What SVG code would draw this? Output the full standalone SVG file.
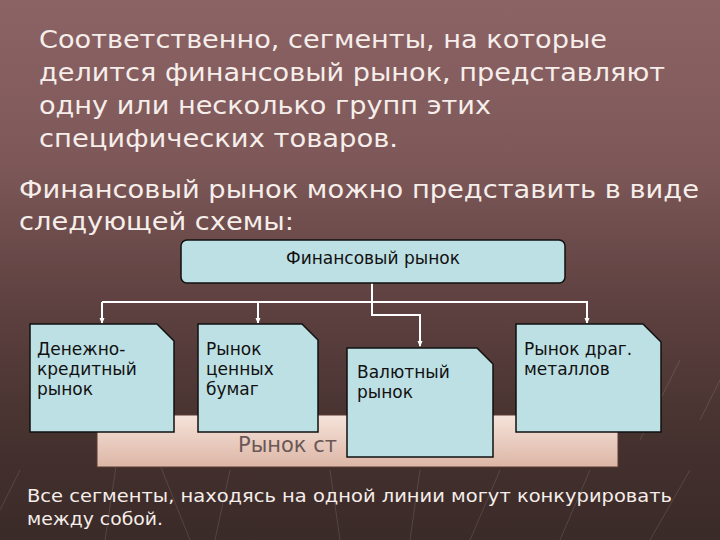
<svg xmlns="http://www.w3.org/2000/svg" width="720" height="540" viewBox="0 0 720 540">
<defs>
<linearGradient id="bg" x1="0" y1="0" x2="0" y2="1">
<stop offset="0" stop-color="#8c6365"/>
<stop offset="0.3" stop-color="#7e5859"/>
<stop offset="0.55" stop-color="#5f4241"/>
<stop offset="0.8" stop-color="#46322f"/>
<stop offset="1" stop-color="#3a2a28"/>
</linearGradient>
<linearGradient id="bar" x1="0" y1="0" x2="0" y2="1">
<stop offset="0" stop-color="#f6e3da"/>
<stop offset="1" stop-color="#dcb6a6"/>
</linearGradient>
<marker id="arr" markerWidth="6" markerHeight="6" refX="5" refY="3" orient="auto" markerUnits="userSpaceOnUse">
<path d="M0,0.5 L6,3 L0,5.5 Z" fill="#ffffff"/>
</marker>
<style>
.title{font-family:"DejaVu Sans","Verdana",sans-serif;fill:#f6eeea}
.t1{font-size:24px}
.t2{font-size:25px}
.note{font-family:"DejaVu Sans",sans-serif;font-size:17px;fill:#f6eeea}
.box{fill:#bde0e4;stroke:#111;stroke-width:1.5}
.lbl{font-family:"DejaVu Sans",sans-serif;font-size:17px;fill:#111}
.conn{fill:none;stroke:#ffffff;stroke-width:2}
.deco{stroke:#ffffff;stroke-opacity:0.12;stroke-width:1;fill:none}
</style>
</defs>
<rect x="0" y="0" width="720" height="540" fill="url(#bg)"/>
<g class="deco">
<path d="M120,440 L105,540"/><path d="M150,440 L190,540"/><path d="M230,470 L215,540"/>
<path d="M330,470 L340,540"/><path d="M420,470 L410,540"/><path d="M500,470 L470,540"/>
<path d="M590,470 L560,540"/><path d="M690,470 L650,540"/><path d="M20,470 L0,510"/>
<path d="M700,420 L720,380"/><path d="M640,440 L680,360"/>
</g>
<g id="heading">
<text class="title t1" x="39" y="48" textLength="568" lengthAdjust="spacingAndGlyphs">Соответственно, сегменты, на которые</text>
<text class="title t1" x="39" y="81" textLength="626" lengthAdjust="spacingAndGlyphs">делится финансовый рынок, представляют</text>
<text class="title t1" x="39" y="114" textLength="452" lengthAdjust="spacingAndGlyphs">одну или несколько групп этих</text>
<text class="title t1" x="39" y="147" textLength="359" lengthAdjust="spacingAndGlyphs">специфических товаров.</text>
<text class="title t2" x="19" y="198" textLength="680" lengthAdjust="spacingAndGlyphs">Финансовый рынок можно представить в виде</text>
<text class="title t2" x="19" y="230" textLength="275" lengthAdjust="spacingAndGlyphs">следующей схемы:</text>
</g>
<g id="insurance-bar">
<rect x="97" y="415" width="521" height="52" fill="url(#bar)" stroke="#5a3a32" stroke-width="1"/>
<text x="238" y="452" font-family="DejaVu Sans, sans-serif" font-size="21" fill="#6a5856">Рынок ст</text>
</g>
<g id="connectors">
<path class="conn" d="M372,283 V315 H420 V346" marker-end="url(#arr)"/>
<path class="conn" d="M102,302 H588"/>
<path class="conn" d="M102,302 V323" marker-end="url(#arr)"/>
<path class="conn" d="M258,302 V323" marker-end="url(#arr)"/>
<path class="conn" d="M587,302 V323" marker-end="url(#arr)"/>
</g>
<g id="financial-market">
<rect class="box" x="181" y="240" width="384" height="43" rx="6"/>
<text class="lbl" x="373" y="264" text-anchor="middle">Финансовый рынок</text>
</g>
<g id="money-credit">
<path class="box" d="M30,324 H157 L174,341 V432 H30 Z"/>
<text class="lbl" x="37" y="355">Денежно-</text>
<text class="lbl" x="37" y="375">кредитный</text>
<text class="lbl" x="37" y="395">рынок</text>
</g>
<g id="securities">
<path class="box" d="M198,324 H302 L318,340 V432 H198 Z"/>
<text class="lbl" x="206" y="355">Рынок</text>
<text class="lbl" x="206" y="375">ценных</text>
<text class="lbl" x="206" y="395">бумаг</text>
</g>
<g id="currency">
<path class="box" d="M347,348 H477 L493,364 V457 H347 Z"/>
<text class="lbl" x="357" y="378">Валютный</text>
<text class="lbl" x="357" y="398">рынок</text>
</g>
<g id="precious-metals">
<path class="box" d="M516,324 H643 L661,342 V432 H516 Z"/>
<text class="lbl" x="524" y="355">Рынок драг.</text>
<text class="lbl" x="524" y="375">металлов</text>
</g>
<g id="footer">
<text class="note" x="27" y="502" textLength="645" lengthAdjust="spacingAndGlyphs">Все сегменты, находясь на одной линии могут конкурировать</text>
<text class="note" x="27" y="525" textLength="136" lengthAdjust="spacingAndGlyphs">между собой.</text>
</g>
</svg>
